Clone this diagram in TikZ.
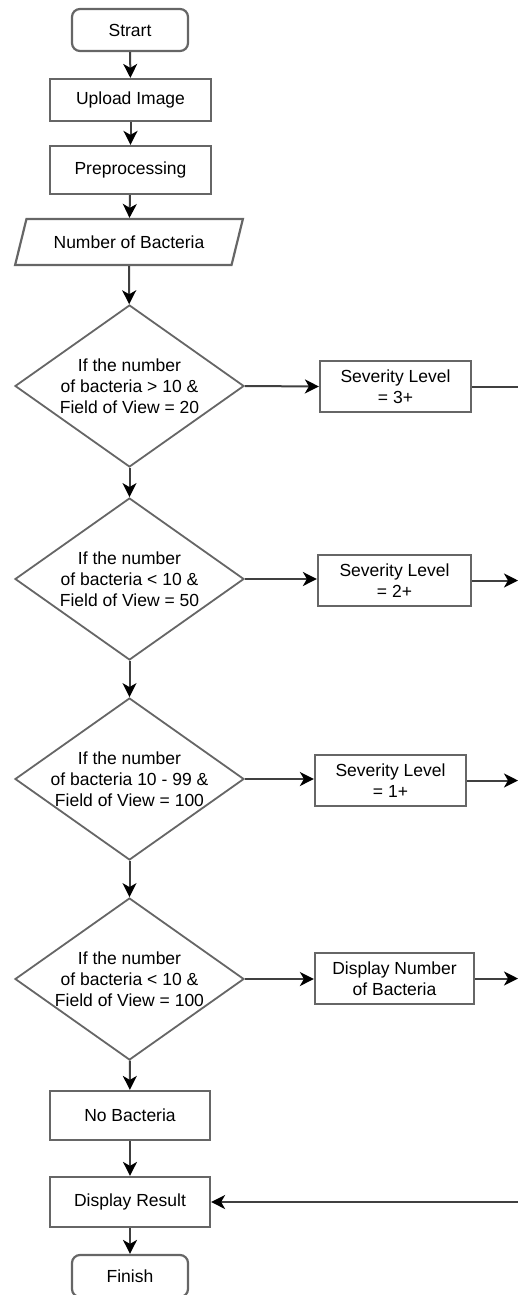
\documentclass[tikz,border=0pt]{standalone}
\usepackage{fontspec}
\setmainfont{Liberation Sans}
\usetikzlibrary{arrows.meta,shapes.geometric}

\begin{document}
\begin{tikzpicture}[x=1pt,y=-1pt,>={Stealth[length=14pt,width=14pt,inset=4pt,color=black]},
  font=\fontsize{17.5}{21}\selectfont,
  proc/.style={draw=black!60,line width=2.2pt,align=center,inner sep=0pt},
  term/.style={proc,rounded corners=8pt},
  io/.style={proc,trapezium,trapezium left angle=57,trapezium right angle=123,trapezium stretches=true},
  cond/.style={draw=black!60,line width=1.8pt,diamond,minimum width=229pt,minimum height=162pt,inner sep=0pt},
  flow/.style={->,draw=black!75,line width=2pt}]
  \useasboundingbox (0,0) rectangle (518,1295);
  % main column
  \node[term,minimum width=116pt,minimum height=42pt] (start) at (130,30) {Strart};
  \node[proc,minimum width=161pt,minimum height=42pt] (upload) at (130.5,100) {Upload Image};
  \node[proc,minimum width=161pt,minimum height=48pt] (prep) at (130.5,170) {Preprocessing};
  \node[io,minimum width=228pt,minimum height=46pt] (count) at (129,242) {Number of Bacteria};
  \node[cond,label={[align=center]center:If the number\\of bacteria > 10 \&\\Field of View = 20}] (c1) at (129.5,386) {};
  \node[cond,label={[align=center]center:If the number\\of bacteria < 10 \&\\Field of View = 50}] (c2) at (129.5,579) {};
  \node[cond,label={[align=center]center:If the number\\of bacteria 10 - 99 \&\\Field of View = 100}] (c3) at (129.5,779) {};
  \node[cond,label={[align=center]center:If the number\\of bacteria < 10 \&\\Field of View = 100}] (c4) at (129.5,979) {};
  \node[proc,minimum width=160pt,minimum height=49pt] (none) at (130,1115.5) {No Bacteria};
  \node[proc,minimum width=160pt,minimum height=50pt] (result) at (130,1202) {Display Result};
  \node[term,minimum width=116pt,minimum height=42pt] (finish) at (130,1276) {Finish};
  % outcomes
  \node[proc,minimum width=151pt,minimum height=51pt] (sev3) at (395.5,386.5) {Severity Level\\= 3+};
  \node[proc,minimum width=153pt,minimum height=51pt] (sev2) at (394.5,580.5) {Severity Level\\= 2+};
  \node[proc,minimum width=151pt,minimum height=51pt] (sev1) at (390.5,780.5) {Severity Level\\= 1+};
  \node[proc,minimum width=159pt,minimum height=51pt] (shownum) at (394.5,978.5) {Display Number\\of Bacteria};
  \coordinate (out3) at (520,386.5);
  \coordinate (out2) at (518,580.5);
  \coordinate (out1) at (518,780.5);
  \coordinate (outn) at (518,978.5);
  \coordinate (back) at (520,1202);
  % connectors
  \draw[flow] (start) -- (upload);
  \draw[flow] (upload) -- (prep);
  \draw[flow] (prep) -- (count);
  \draw[flow] (count) -- (c1);
  \draw[flow] (c1) -- (c2);
  \draw[flow] (c2) -- (c3);
  \draw[flow] (c3) -- (c4);
  \draw[flow] (c4) -- (none);
  \draw[flow] (none) -- (result);
  \draw[flow] (result) -- (finish);
  \draw[flow] (c1.east) -- (sev3.west);
  \draw[flow] (c2.east) -- (c2.east -| sev2.west);
  \draw[flow] (c3.east) -- (c3.east -| sev1.west);
  \draw[flow] (c4.east) -- (c4.east -| shownum.west);
  \draw[draw=black!75,line width=2pt] (sev3.east) -- (out3);
  \draw[flow] (sev2.east) -- (out2);
  \draw[flow] (sev1.east) -- (out1);
  \draw[flow] (shownum.east) -- (outn);
  \draw[flow] (back) -- (result.east);
\end{tikzpicture}
\end{document}
